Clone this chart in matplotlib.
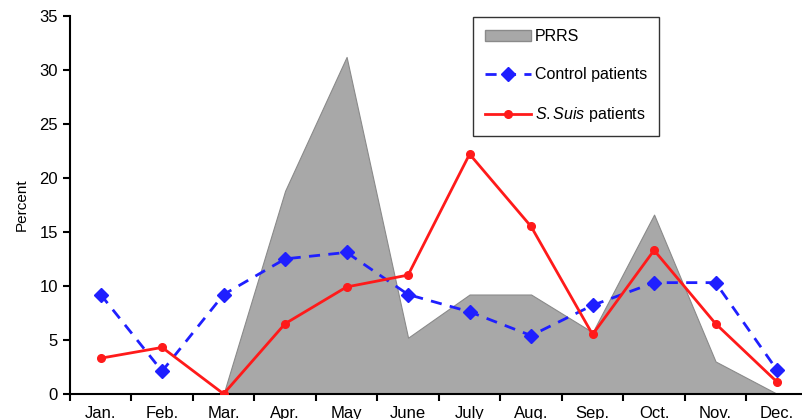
import numpy as np
import matplotlib.pyplot as plt
from matplotlib.patches import Patch
from matplotlib.lines import Line2D

plt.rcParams['font.family'] = ['Liberation Sans Narrow', 'Liberation Sans', 'DejaVu Sans']
plt.rcParams['mathtext.fontset'] = 'custom'
plt.rcParams['mathtext.it'] = 'Liberation Sans:italic'
plt.rcParams['mathtext.rm'] = 'Liberation Sans'

months = ['Jan.', 'Feb.', 'Mar.', 'Apr.', 'May', 'June',
          'July', 'Aug.', 'Sep.', 'Oct.', 'Nov.', 'Dec.']
prrs = [None, None, 0.0, 18.8, 31.2, 5.2, 9.2, 9.2, 5.7, 16.6, 3.0, 0.0]
control = [9.2, 2.1, 9.2, 12.5, 13.1, 9.2, 7.6, 5.4, 8.2, 10.3, 10.3, 2.2]
ssuis = [3.3, 4.3, 0.0, 6.5, 9.9, 11.0, 22.2, 15.5, 5.5, 13.3, 6.5, 1.1]

x = np.arange(len(months)) + 0.5

fig = plt.figure(figsize=(8.03, 4.19), dpi=100)
ax = fig.add_axes([0.087, 0.06, 0.919, 0.902])

# grey area, only where PRRS has values
px = [xi for xi, v in zip(x, prrs) if v is not None]
pv = [v for v in prrs if v is not None]
ax.fill_between(px, 0, pv, facecolor='#a8a8a8', edgecolor='#8a8a8a', linewidth=0.8, zorder=1)

ax.plot(x, control, color='#1f1fff', linestyle=(0, (4, 3)), linewidth=2,
        marker='D', markersize=7.5, zorder=3)
ax.plot(x, ssuis, color='#ff1a1a', linestyle='-', linewidth=2,
        marker='o', markersize=5.5, zorder=4)

ax.set_xlim(0, 11.92)
ax.set_ylim(0, 35)
ax.set_yticks(range(0, 36, 5))
ax.set_xticks(np.arange(0, 13))
ax.set_xticklabels([])
ax.set_xticks(x, minor=True)
ax.set_xticklabels(months, minor=True)
ax.tick_params(axis='x', which='major', direction='out', length=5, width=1.5)
ax.tick_params(axis='x', which='minor', length=0, labelsize=12, pad=9)
ax.tick_params(axis='y', direction='out', length=5, width=1.5, labelsize=12)
ax.set_ylabel('Percent', fontsize=11, labelpad=8)

for s in ['top', 'right']:
    ax.spines[s].set_visible(False)
for s in ['left', 'bottom']:
    ax.spines[s].set_linewidth(1.5)

handles = [
    Patch(facecolor='#a8a8a8', edgecolor='#8a8a8a'),
    Line2D([], [], color='#1f1fff', linestyle=(0, (4, 3)), linewidth=2, marker='D', markersize=7),
    Line2D([], [], color='#ff1a1a', linewidth=2, marker='o', markersize=5.5),
]
labels = ['PRRS', 'Control patients', r'$\mathit{S.Suis}$ patients']
leg = ax.legend(handles, labels, loc='upper left', bbox_to_anchor=(0.546, 0.997),
                fontsize=11.5, frameon=True, fancybox=False, edgecolor='black',
                labelspacing=1.45, handlelength=2.9, borderpad=0.75, handletextpad=0.25,
                borderaxespad=0)
leg.get_frame().set_linewidth(1.0)

fig.savefig('out.png', dpi=100)
